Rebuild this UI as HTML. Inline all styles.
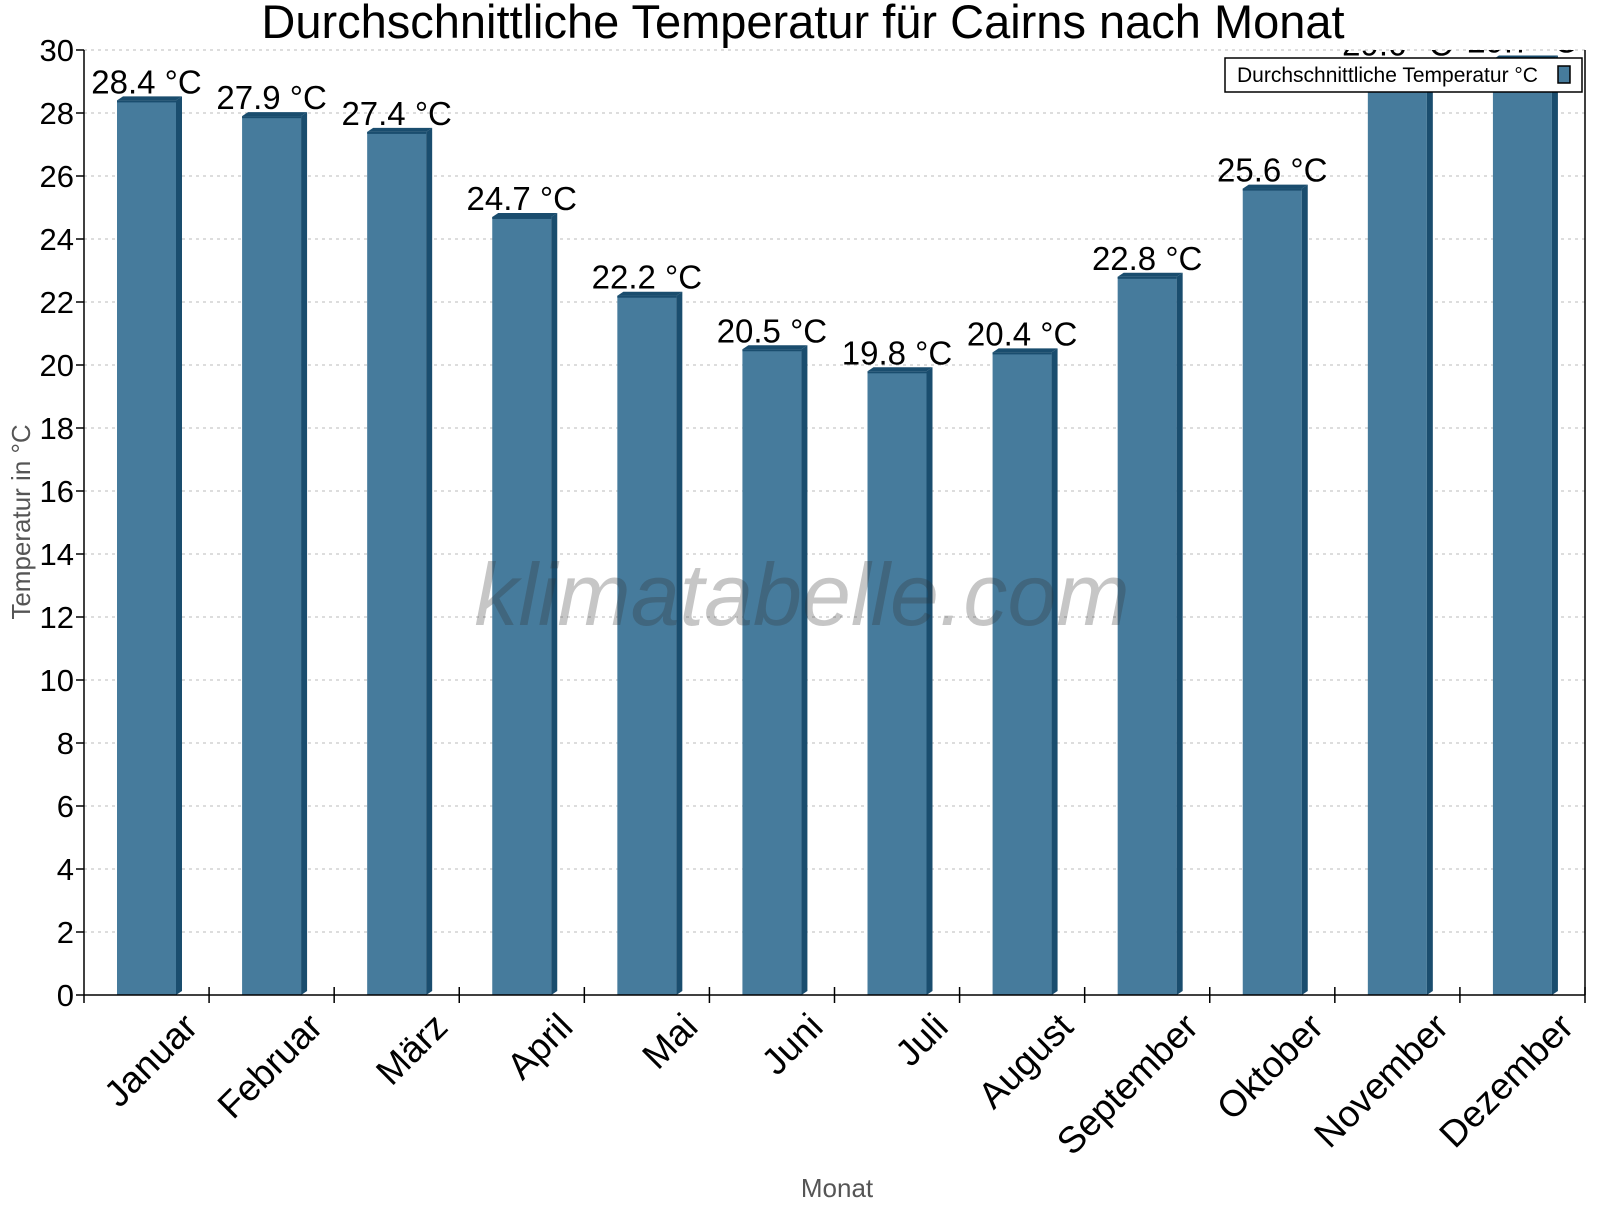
<!DOCTYPE html>
<html><head><meta charset="utf-8"><style>
body{margin:0;background:#fff;}
svg text{font-family:"Liberation Sans",sans-serif;}
</style></head><body>
<svg id="chart" width="1600" height="1200" xmlns="http://www.w3.org/2000/svg">
<defs><clipPath id="plotclip"><rect x="84" y="50" width="1502" height="960"/></clipPath></defs>
<text x="803" y="38" font-size="47" text-anchor="middle" fill="#000">Durchschnittliche Temperatur für Cairns nach Monat</text>
<g id="grid"></g>
<g id="bars" clip-path="url(#plotclip)"></g>
<text x="802" y="625" font-size="88" font-style="italic" text-anchor="middle" fill="#333" fill-opacity="0.28">klimatabelle.com</text>
<g id="axes"></g>
<text transform="translate(30,522) rotate(-90)" font-size="26" text-anchor="middle" fill="#555">Temperatur in °C</text>
<text x="837" y="1197" font-size="26" text-anchor="middle" fill="#555">Monat</text>
<g>
<rect x="1225" y="58" width="357" height="34" fill="#fff" stroke="#000" stroke-width="1.5"/>
<text x="1237" y="82" font-size="21">Durchschnittliche Temperatur °C</text>
<rect x="1558" y="66" width="12" height="17" fill="#467b9c" stroke="#000" stroke-width="1.5"/>
</g>
</svg>
<script>
const months=["Januar","Februar","März","April","Mai","Juni","Juli","August","September","Oktober","November","Dezember"];
const temps=[28.4,27.9,27.4,24.7,22.2,20.5,19.8,20.4,22.8,25.6,29.6,29.7];
const yTicks=[0,2,4,6,8,10,12,14,16,18,20,22,24,26,28,30];
const NS="http://www.w3.org/2000/svg";
const X0=84,X1=1585,Y0=995,Y1=50,YMAX=30;
const band=(X1-X0)/months.length;
function y(v){return Y0-(v/YMAX)*(Y0-Y1);}
function xb(i){return X0+i*band;}
function mk(tag,attrs,parent,txt){const e=document.createElementNS(NS,tag);for(const k in attrs)e.setAttribute(k,attrs[k]);if(txt!==undefined)e.textContent=txt;parent.appendChild(e);return e;}
const grid=document.getElementById('grid'),bars=document.getElementById('bars'),axes=document.getElementById('axes');
yTicks.forEach(t=>{
  if(t>0){const l=mk('line',{x1:X0,x2:X1,y1:y(t),y2:y(t),stroke:'#bbb','stroke-dasharray':'3,4','stroke-width':1},grid);
  
  }
  const tk=mk('line',{x1:X0-8,x2:X0,y1:y(t),y2:y(t),stroke:'#000','stroke-width':1.5},axes);
  
  
  const lb=mk('text',{x:X0-10,y:y(t)+11,'font-size':31,'text-anchor':'end'},axes,String(t));
  
  
});
temps.forEach((v,i)=>{
  const x=xb(i)+33,w=59,d=6,top=y(v);
  const g=mk('g',{},bars);
  
  
  mk('rect',{x:x,y:top,width:w,height:Y0-top,fill:'#467b9c'},g);
  mk('polygon',{points:`${x+w},${top} ${x+w+d},${top-4} ${x+w+d},${Y0-4} ${x+w},${Y0}`,fill:'#1a4d6e'},g);
  mk('polygon',{points:`${x},${top} ${x+d},${top-4} ${x+w+d},${top-4} ${x+w},${top}`,fill:'#1a4d6e'},g);
  mk('rect',{x:x,y:top,width:w,height:2,fill:'#1a4d6e'},g);
  const t=mk('text',{x:x+w/2,y:top-7,'font-size':33,'text-anchor':'middle'},bars,v.toFixed(1)+' °C');
  
  
});
const ya=mk('line',{x1:X0,x2:X0,y1:Y1,y2:Y0+8,stroke:'#000','stroke-width':1.5},axes);


const yr=mk('line',{x1:X1,x2:X1,y1:Y1,y2:Y0,stroke:'#000','stroke-width':1.5},axes);


const xa=mk('line',{x1:X0,x2:X1,y1:Y0,y2:Y0,stroke:'#000','stroke-width':1.5},axes);


months.forEach((m,i)=>{
  const tk=mk('line',{x1:xb(i+1),x2:xb(i+1),y1:Y0-8,y2:Y0+8,stroke:'#000','stroke-width':1.5},axes);
  
  
  const cx=xb(i)+band/2+53;
  const lb=mk('text',{x:cx,y:Y0+34,'font-size':37,'text-anchor':'end',transform:`rotate(-45 ${cx} ${Y0+34})`},axes,m);
  
  
});
</script>
</body></html>
